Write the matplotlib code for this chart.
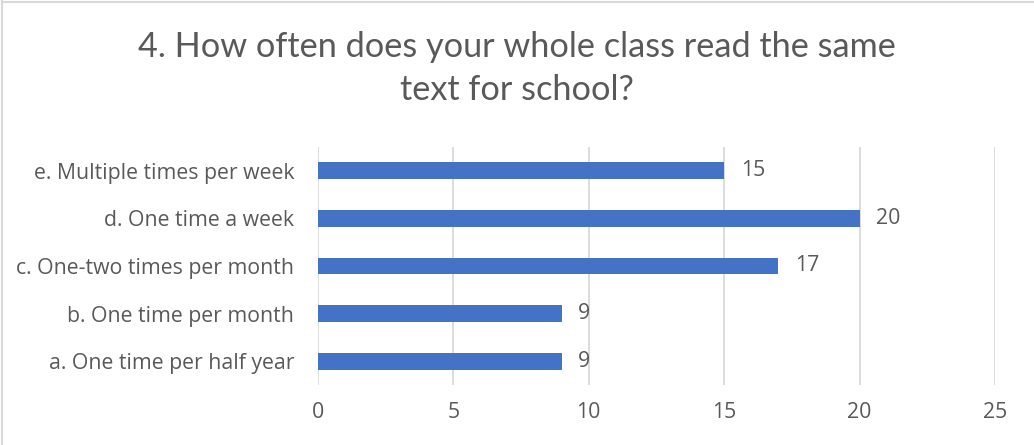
import matplotlib.pyplot as plt
from matplotlib.lines import Line2D

# survey answers, bottom to top
categories = [
    "a. One time per half year",
    "b. One time per month",
    "c. One-two times per month",
    "d. One time a week",
    "e. Multiple times per week",
]
counts = [9, 9, 17, 20, 15]
xticks = [0, 5, 10, 15, 20, 25]

title = "4. How often does your whole class read the same\ntext for school?"

bar_color = "#4472C4"
text_color = "#595959"
grid_color = "#D9D9D9"

plt.rcParams['font.family'] = ['Open Sans', 'DejaVu Sans']

fig = plt.figure(figsize=(10.34, 4.45), dpi=100)
ax = fig.add_axes([0.3075, 0.1348, 0.6548, 0.5349])

ypos = list(range(len(categories)))
bars = ax.barh(ypos, counts, height=0.35, color=bar_color, zorder=3)

ax.set_xlim(0, 25)
ax.set_ylim(-0.5, len(categories) - 0.5)
ax.set_xticks(xticks)
ax.set_yticks(ypos)
ax.set_yticklabels(categories)
ax.tick_params(axis='both', length=0, labelsize=15.3, colors=text_color)
ax.tick_params(axis='y', pad=17)
ax.tick_params(axis='x', pad=12)
ax.xaxis.grid(True, color=grid_color, linewidth=1.3, zorder=0)
for s in ax.spines.values():
    s.set_visible(False)

# value labels next to each bar
for b, v in zip(bars, counts):
    ax.annotate(str(v), (v, b.get_y() + b.get_height() / 2),
                xytext=(12, 0), textcoords='offset points',
                va='center', ha='left', fontsize=15.3, color=text_color)

fig.text(0.5, 0.93, title, ha='center', va='top', fontsize=24.7,
         color=text_color, linespacing=1.42, family=['Lato', 'DejaVu Sans'])

# chart frame edges (top and left)
fig.add_artist(Line2D([0.0015, 0.0015], [0, 0.997], color=grid_color,
                      linewidth=1.5, transform=fig.transFigure))
fig.add_artist(Line2D([0.0015, 1], [0.996, 0.996], color=grid_color,
                      linewidth=1.5, transform=fig.transFigure))

fig.savefig("out.png", dpi=100)
